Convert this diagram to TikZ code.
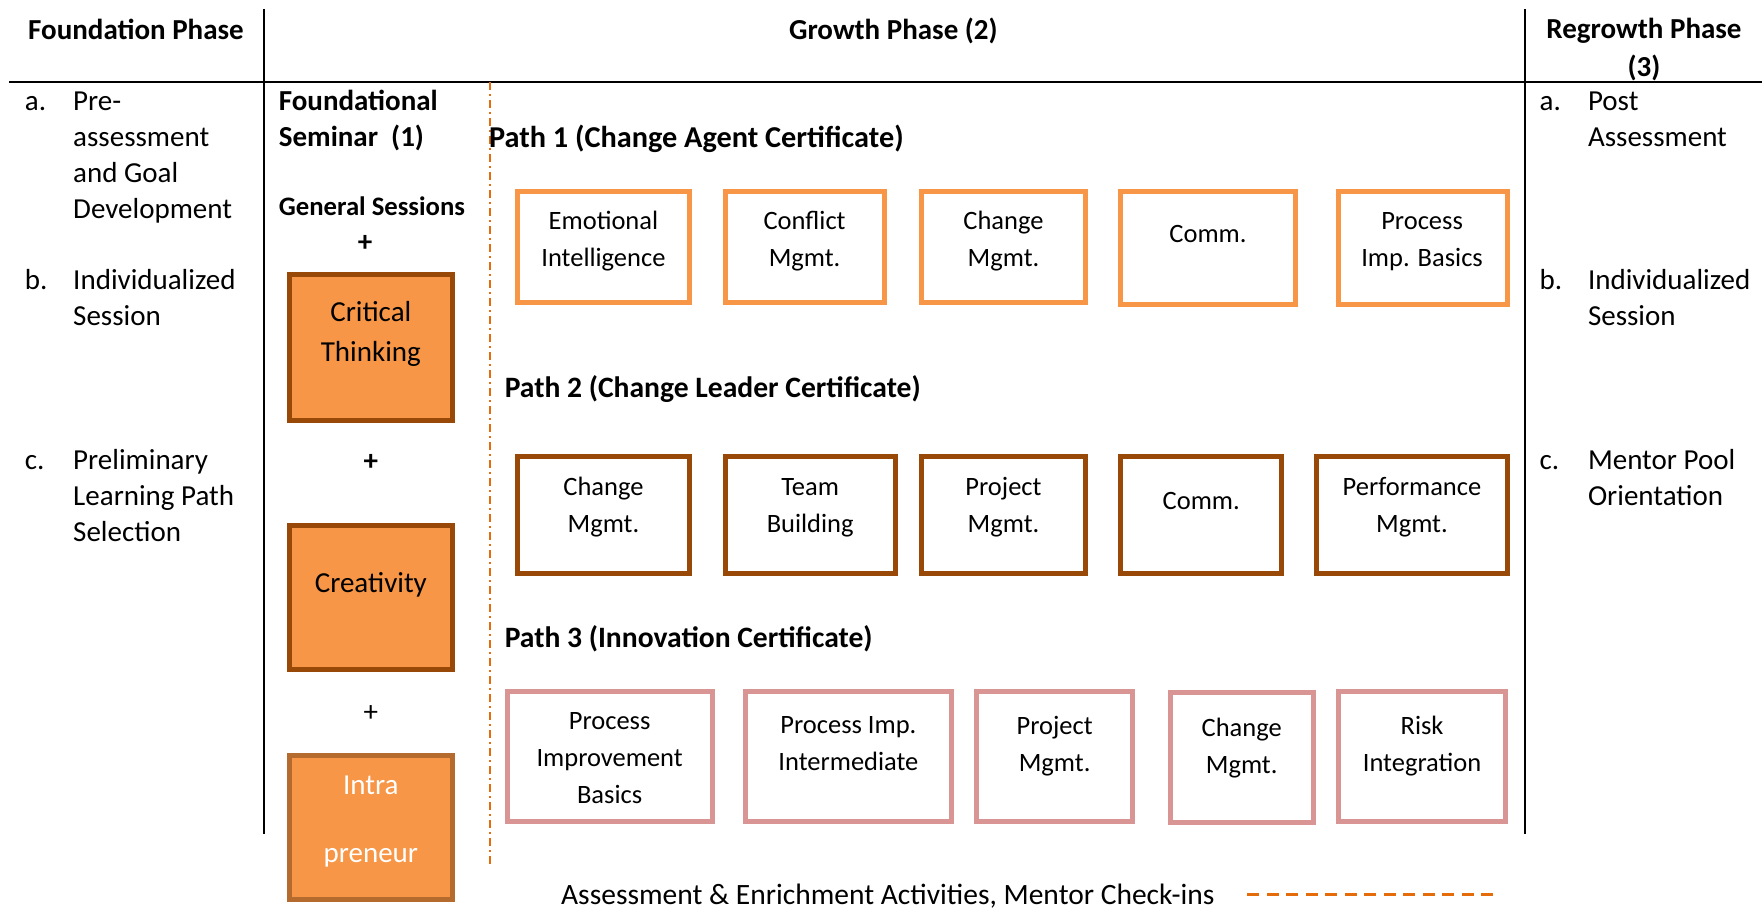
\documentclass[tikz,border=0pt]{standalone}
\usepackage{fontspec}
\setmainfont{Carlito}
\usetikzlibrary{fit}
\definecolor{lorange}{HTML}{F79646}
\definecolor{dbrown}{HTML}{984807}
\definecolor{mbrown}{HTML}{B56B2E}
\definecolor{pinkb}{HTML}{D99594}
\definecolor{dashor}{HTML}{E46C0A}
\newcommand{\lft}[1]{\begin{tabular}[t]{@{}l@{}}#1\end{tabular}}
\newcommand{\ctr}[1]{\begin{tabular}[t]{@{}c@{}}#1\end{tabular}}
\begin{document}
\begin{tikzpicture}[x=1.1237pt,y=-1.1237pt,
  rule/.style={line width=2pt,black},
  txt/.style={font=\fontsize{29}{36}\selectfont,inner sep=0pt,anchor=base west},
  ctxt/.style={txt,anchor=base},
  hd/.style={txt,font=\fontsize{29}{36}\selectfont\bfseries},
  chd/.style={hd,anchor=base},
  btxt/.style={font=\fontsize{26.5}{37}\selectfont,inner sep=0pt,anchor=base},
  seg/.style={line width=5pt,fill=lorange,draw=dbrown,inner sep=0pt},
  segl/.style={seg,draw=mbrown},
  pa/.style={line width=5pt,draw=lorange,inner sep=0pt},
  pb/.style={line width=5pt,draw=dbrown,inner sep=0pt},
  pc/.style={line width=5pt,draw=pinkb,inner sep=0pt},
  dashdot/.style={line width=2pt,dashor,dash pattern=on 8pt off 4pt on 2pt off 4pt},
  legdash/.style={line width=2.5pt,dashor,dash pattern=on 12pt off 7.5pt}]
\useasboundingbox (0,0) rectangle (1568,811.6);
% table rules
\coordinate (v1t) at (235,8); \coordinate (v1b) at (235,742);
\coordinate (v2t) at (1357,8); \coordinate (v2b) at (1357,742);
\coordinate (hl) at (8,73); \coordinate (hr) at (1568,73);
\draw[rule] (v1t) -- (v1b);
\draw[rule] (v2t) -- (v2b);
\draw[rule] (hl) -- (hr);
% headers
\node[chd] (h1) at (121,35) {Foundation Phase};
\node[chd] (h2) at (795,35) {Growth Phase (2)};
\node[chd] (h3) at (1463,34.5) {\ctr{Regrowth Phase\\[1.5pt](3)}};
% left column
\node[txt] (la) at (22,98) {a.};
\node[txt] (lat) at (65,98) {\lft{Pre-\\assessment\\and Goal\\Development}};
\node[txt] (lb) at (22,258) {b.};
\node[txt] (lbt) at (65,258) {\lft{Individualized\\Session}};
\node[txt] (lc) at (22,418) {c.};
\node[txt] (lct) at (65,418) {\lft{Preliminary\\Learning Path\\Selection}};
% seminar column
\node[hd] (fs) at (248,98) {\lft{Foundational\\Seminar\ \ (1)}};
\node[hd,font=\fontsize{26.7}{36}\selectfont\bfseries] (gs) at (248,192) {General Sessions};
\node[chd] (pl1) at (325,224) {+};
\node[seg,fit={(257.2,244.2) (402.8,373.8)}] (ct) {};
\node[ctxt] (ctt) at (330,286) {\ctr{Critical\\[4.5pt]Thinking}};
\node[chd] (pl2) at (330,419) {+};
\node[seg,fit={(257.2,467.2) (402.8,595.8)}] (cr) {};
\node[ctxt] (crt) at (330,527) {Creativity};
\node[ctxt] (pl3) at (330,642) {+};
\node[segl,fit={(257.2,672.2) (402.8,800.8)}] (ip) {};
\node[ctxt,text=white] (ipt) at (330,707) {\ctr{Intra\\[32.5pt]preneur}};
% dash-dot separator
\coordinate (sept) at (436,73); \coordinate (sepb) at (436,770);
\draw[dashdot] (sept) -- (sepb);
% path headings
\node[hd,font=\fontsize{30.3}{36}\selectfont\bfseries] (p1) at (435,131) {Path 1 (Change Agent Certificate)};
\node[hd,font=\fontsize{29.6}{36}\selectfont\bfseries] (p2) at (449,354) {Path 2 (Change Leader Certificate)};
\node[hd,font=\fontsize{29.6}{36}\selectfont\bfseries] (p3) at (449,576) {Path 3 (Innovation Certificate)};
% row 1
\node[pa,fit={(460.2,170.2) (613.8,268.8)}] (a1) {};
\node[btxt] (a1t) at (537,204) {\ctr{Emotional\\Intelligence}};
\node[pa,fit={(645.2,170.2) (786.8,268.8)}] (a2) {};
\node[btxt] (a2t) at (716,204) {\ctr{Conflict\\Mgmt.}};
\node[pa,fit={(820.2,170.2) (965.8,268.8)}] (a3) {};
\node[btxt] (a3t) at (893,204) {\ctr{Change\\Mgmt.}};
\node[pa,fit={(997.2,170.2) (1152.8,270.8)}] (a4) {};
\node[btxt] (a4t) at (1075,216) {Comm.};
\node[pa,fit={(1190.8,170.2) (1341.6,270.8)}] (a5) {};
\node[btxt] (a5t) at (1265.5,204) {\ctr{Process\\Imp. Basics}};
% row 2
\node[pb,fit={(460.2,406.2) (613.8,510.2)}] (b1) {};
\node[btxt] (b1t) at (537,440.5) {\ctr{Change\\Mgmt.}};
\node[pb,fit={(645.2,406.2) (796.8,510.2)}] (b2) {};
\node[btxt] (b2t) at (721,440.5) {\ctr{Team\\Building}};
\node[pb,fit={(820.2,406.2) (965.8,510.2)}] (b3) {};
\node[btxt] (b3t) at (893,440.5) {\ctr{Project\\Mgmt.}};
\node[pb,fit={(997.2,406.2) (1140.8,510.2)}] (b4) {};
\node[btxt] (b4t) at (1069,453.5) {Comm.};
\node[pb,fit={(1171.2,406.2) (1341.6,510.2)}] (b5) {};
\node[btxt] (b5t) at (1256.5,440.5) {\ctr{Performance\\Mgmt.}};
% row 3
\node[pc,fit={(451.2,615.2) (633.8,730.8)}] (c1) {};
\node[btxt] (c1t) at (542.5,649) {\ctr{Process\\Improvement\\Basics}};
\node[pc,fit={(663.2,615.2) (846.8,730.8)}] (c2) {};
\node[btxt] (c2t) at (755,653) {\ctr{Process Imp.\\Intermediate}};
\node[pc,fit={(869.2,615.2) (1007.8,730.8)}] (c3) {};
\node[btxt] (c3t) at (938.5,654) {\ctr{Project\\Mgmt.}};
\node[pc,fit={(1041.2,616.2) (1168.8,731.8)}] (c4) {};
\node[btxt] (c4t) at (1105,655) {\ctr{Change\\Mgmt.}};
\node[pc,fit={(1191.2,615.2) (1339.8,730.8)}] (c5) {};
\node[btxt] (c5t) at (1265.5,654) {\ctr{Risk\\Integration}};
% legend
\node[ctxt,font=\fontsize{29.5}{36}\selectfont] (leg) at (790,805) {Assessment \& Enrichment Activities, Mentor Check-ins};
\coordinate (ld1) at (1110,796); \coordinate (ld2) at (1335,796);
\draw[legdash] (ld1) -- (ld2);
% right column
\node[txt] (ra) at (1370,98) {a.};
\node[txt] (rat) at (1413,98) {\lft{Post\\Assessment}};
\node[txt] (rb) at (1370,258) {b.};
\node[txt] (rbt) at (1413,258) {\lft{Individualized\\Session}};
\node[txt] (rc) at (1370,418) {c.};
\node[txt] (rct) at (1413,418) {\lft{Mentor Pool\\Orientation}};
\end{tikzpicture}
\end{document}
